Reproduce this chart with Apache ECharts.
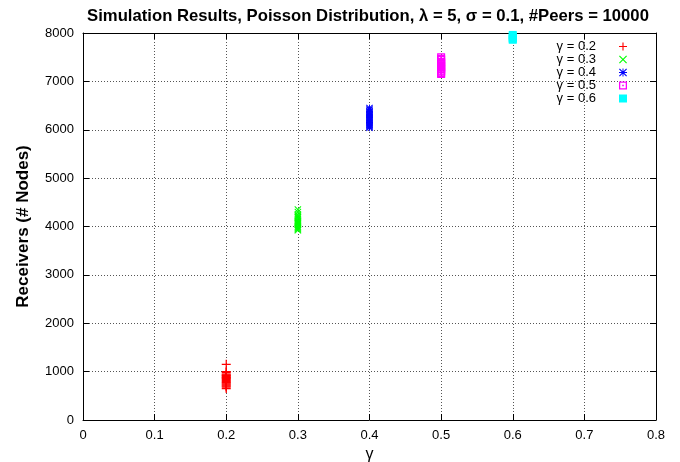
<!DOCTYPE html>
<html><head><meta charset="utf-8">
<script src="https://cdn.jsdelivr.net/npm/echarts@6/dist/echarts.min.js"></script>
<style>html,body{margin:0;padding:0;background:#fff}#c{width:680px;height:462px}</style>
</head><body><div id="c"></div>
<script>
const xTicks = [0, 0.1, 0.2, 0.3, 0.4, 0.5, 0.6, 0.7, 0.8];
const yTicks = [0, 1000, 2000, 3000, 4000, 5000, 6000, 7000, 8000];
const seriesNames = ['γ = 0.2', 'γ = 0.3', 'γ = 0.4', 'γ = 0.5', 'γ = 0.6'];
const gammas = [0.2, 0.3, 0.4, 0.5, 0.6];
const recv02 = [1150, 1000, 980, 950, 920, 900, 880, 860, 840, 820, 800, 780, 760, 740, 720, 700, 680, 650, 870, 930];
const recv03 = [4350, 4300, 4250, 4200, 4180, 4150, 4120, 4100, 4080, 4050, 4030, 4000, 3980, 3960, 3940, 3920, 4220, 4070];
const recv04 = [6450, 6420, 6380, 6350, 6320, 6300, 6280, 6250, 6220, 6200, 6180, 6150, 6120, 6100, 6080, 6060, 6040];
const recv05 = [7500, 7470, 7440, 7400, 7380, 7350, 7320, 7300, 7280, 7250, 7220, 7200, 7170, 7150];
const recv06 = [7960, 7930, 7900, 7880, 7860];

const FONT = 'Liberation Sans';
const plusPath = 'path://M0,4.3L10,4.3L10,5.7L0,5.7Z M4.3,0L5.7,0L5.7,10L4.3,10Z';
const xPath = 'path://M1,0L5,4L9,0L10,1L6,5L10,9L9,10L5,6L1,10L0,9L4,5L0,1Z';
const starPath = 'path://M4.4,0L5.6,0L5.6,4.4L10,4.4L10,5.6L5.6,5.6L5.6,10L4.4,10L4.4,5.6L0,5.6L0,4.4L4.4,4.4Z M1,0L5,4L9,0L10,1L6,5L10,9L9,10L5,6L1,10L0,9L4,5L0,1Z';
const dotSquare = 'path://M0,0L10,0L10,10L0,10Z M1.6,1.6L1.6,8.4L8.4,8.4L8.4,1.6Z M4,4L6,4L6,6L4,6Z';

const all = [recv02, recv03, recv04, recv05, recv06];
const colors = ['#ff0000', '#00ff00', '#0000ff', '#ff00ff', '#00ffff'];
const symbols = [plusPath, xPath, starPath, dotSquare, 'rect'];
const sizes = [9, 7, 7, 8, 8];

const gridLine = {show: true, lineStyle: {color: '#555', type: [1, 2], width: 1}};
const chart = echarts.init(document.getElementById('c'));
chart.setOption({
  animation: false,
  title: {
    text: 'Simulation Results, Poisson Distribution, λ = 5, σ = 0.1, #Peers = 10000',
    left: 363, top: 3, textAlign: 'center',
    textStyle: {fontFamily: FONT, fontSize: 16.7, fontWeight: 'bold', color: '#000'}
  },
  grid: {left: 83, right: 24, top: 33, bottom: 42, containLabel: false, outerBoundsMode: 'none'},
  legend: {
    orient: 'vertical', right: 48, top: 35, align: 'right',
    itemWidth: 8, itemHeight: 8, itemGap: 0,
    textStyle: {fontFamily: FONT, fontSize: 13, color: '#000', padding: [0, 18, 0, 0]},
    data: seriesNames
  },
  xAxis: [{
    type: 'value', min: 0, max: 0.8, interval: 0.1,
    name: 'γ', nameLocation: 'middle', nameGap: 27,
    nameTextStyle: {fontFamily: FONT, fontSize: 16, color: '#000'},
    axisLine: {show: true, onZero: false, lineStyle: {color: '#000', width: 1}},
    axisTick: {show: true, inside: true, length: 6, lineStyle: {color: '#000'}},
    axisLabel: {fontFamily: FONT, fontSize: 13, color: '#000', margin: 9,
      formatter: v => String(parseFloat(v.toFixed(1)))},
    splitLine: gridLine
  }, {
    type: 'value', min: 0, max: 0.8, interval: 0.1, position: 'top',
    axisLine: {show: true, onZero: false, lineStyle: {color: '#000', width: 1}},
    axisTick: {show: true, inside: true, length: 6, lineStyle: {color: '#000'}},
    axisLabel: {show: false}, splitLine: {show: false}
  }],
  yAxis: [{
    type: 'value', min: 0, max: 8000, interval: 1000,
    name: 'Receivers (# Nodes)', nameLocation: 'middle', nameGap: 51, nameRotate: 90,
    nameTextStyle: {fontFamily: FONT, fontSize: 17, fontWeight: 'bold', color: '#000'},
    axisLine: {show: true, onZero: false, lineStyle: {color: '#000', width: 1}},
    axisTick: {show: true, inside: true, length: 6, lineStyle: {color: '#000'}},
    axisLabel: {fontFamily: FONT, fontSize: 13, color: '#000', margin: 9,
      formatter: v => String(v)},
    splitLine: gridLine
  }, {
    type: 'value', min: 0, max: 8000, interval: 1000, position: 'right',
    axisLine: {show: true, onZero: false, lineStyle: {color: '#000', width: 1}},
    axisTick: {show: true, inside: true, length: 6, lineStyle: {color: '#000'}},
    axisLabel: {show: false}, splitLine: {show: false}
  }],
  series: all.map((vals, i) => ({
    name: seriesNames[i], type: 'scatter',
    symbol: symbols[i], symbolSize: sizes[i],
    itemStyle: {color: colors[i], opacity: 1},
    clip: false,
    data: vals.map(v => [gammas[i], v])
  }))
});
</script></body></html>
